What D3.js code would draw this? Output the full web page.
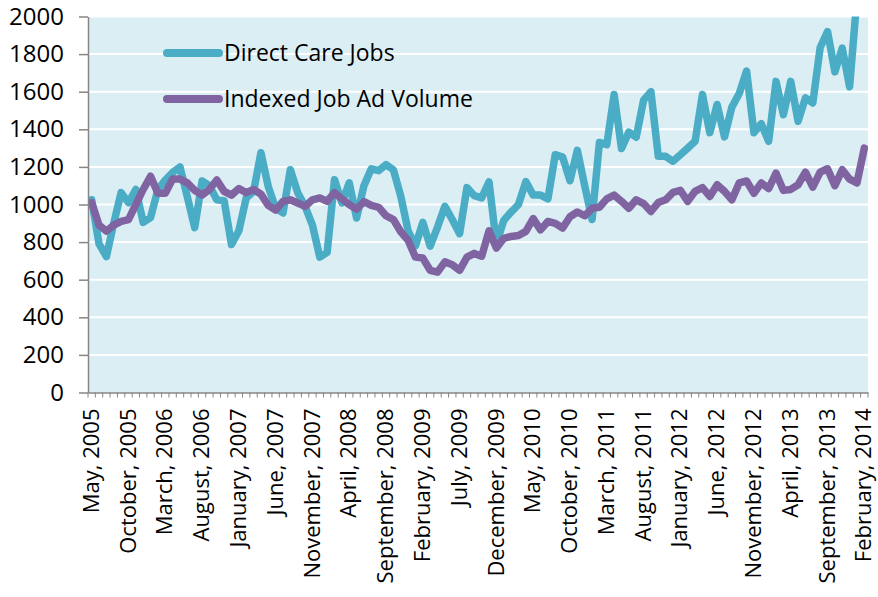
<!DOCTYPE html>
<html><head><meta charset="utf-8">
<script src="https://cdn.jsdelivr.net/npm/d3@7"></script>
<style>body{margin:0;background:#fff}svg{display:block}</style>
</head><body><svg id="c" width="878" height="597"></svg>
<script>
const monthNames = ["January","February","March","April","May","June","July","August","September","October","November","December"];
// categories: monthly, May 2005 .. February 2014
const categories = [];
for (let k = 0; k < 106; k++) {
  const m = (4 + k) % 12, yr = 2005 + Math.floor((4 + k) / 12);
  categories.push(monthNames[m] + ", " + yr);
}
const tickLabels = ["May, 2005","October, 2005","March, 2006","August, 2006","January, 2007","June, 2007","November, 2007","April, 2008","September, 2008","February, 2009","July, 2009","December, 2009","May, 2010","October, 2010","March, 2011","August, 2011","January, 2012","June, 2012","November, 2012","April, 2013","September, 2013","February, 2014"];
const yTicks = [0,200,400,600,800,1000,1200,1400,1600,1800,2000];
const seriesNames = ["Direct Care Jobs","Indexed Job Ad Volume"];
const directCareJobs = [
 1025,790,723,900,1063,1010,1080,905,930,1080,
 1130,1170,1200,1040,877,1125,1100,1025,1020,787,
 860,1035,1070,1275,1095,980,955,1185,1063,990,
 890,720,745,1132,1008,1115,928,1100,1190,1180,
 1212,1185,1045,860,780,905,778,880,990,920,
 845,1090,1047,1035,1120,790,915,960,1000,1122,
 1050,1050,1030,1265,1252,1127,1288,1100,920,1330,
 1318,1585,1298,1385,1358,1555,1600,1256,1256,1230,
 1265,1300,1336,1585,1382,1532,1360,1518,1590,1710,
 1382,1430,1336,1655,1478,1655,1443,1567,1540,1835,
 1920,1706,1832,1626,2100,2250];
const indexedJobAdVolume = [
 1010,890,858,890,910,920,1000,1080,1150,1060,
 1060,1135,1135,1115,1075,1050,1080,1130,1070,1050,
 1085,1063,1080,1055,995,970,1017,1025,1008,990,
 1025,1035,1017,1063,1030,1000,975,1015,995,985,
 940,920,855,810,720,715,650,640,695,680,
 650,720,740,725,860,768,820,830,835,857,
 925,865,910,900,875,935,960,940,980,985,
 1030,1050,1017,980,1025,1005,963,1010,1025,1065,
 1075,1017,1070,1090,1043,1105,1070,1025,1115,1125,
 1060,1115,1085,1167,1075,1080,1105,1172,1092,1172,
 1190,1100,1185,1135,1115,1300];
const colors = ["#4BACC6","#8064A2"];

const svg = d3.select("#c");
const L = 88, R = 868, T = 16.5, B = 392.5;
const x = d3.scalePoint().domain(categories).range([L, R]).padding(0.5);
const y = d3.scaleLinear().domain([0, 2000]).range([B, T]);
const step = x.step();
const font = "'Open Sans', sans-serif";

svg.append("rect").attr("x", L).attr("y", T).attr("width", R - L).attr("height", B - T).attr("fill", "#DAEEF3");
svg.append("g").selectAll("line").data(yTicks.filter(v => v > 0)).join("line")
  .attr("x1", L).attr("x2", R).attr("y1", d => y(d)).attr("y2", d => y(d))
  .attr("stroke", "#fff").attr("stroke-width", 2);

svg.append("defs").append("clipPath").attr("id", "clip")
  .append("rect").attr("x", L).attr("y", T).attr("width", R - L).attr("height", B - T);

const line = d3.line().x((d, i) => x(categories[i])).y(d => y(d));
[directCareJobs, indexedJobAdVolume].forEach((s, k) => {
  svg.append("path").datum(s).attr("d", line).attr("clip-path", "url(#clip)")
    .attr("fill", "none").attr("stroke", colors[k]).attr("stroke-width", 7.5)
    .attr("stroke-linejoin", "round").attr("stroke-linecap", "round");
});

// y axis
const yAxis = svg.append("g").attr("transform", `translate(${L},0)`)
  .call(d3.axisLeft(y).tickValues(yTicks).tickFormat(d3.format("d")).tickSize(9).tickPadding(15).tickSizeOuter(0));
yAxis.select(".domain").attr("stroke", "#868686").attr("stroke-width", 1.5);
yAxis.selectAll(".tick line").attr("stroke", "#868686").attr("stroke-width", 1.5);
yAxis.selectAll("text").attr("font-family", font).attr("font-size", 24).attr("fill", "#000");

// x axis
const xAxis = svg.append("g").attr("transform", `translate(0,${B})`)
  .call(d3.axisBottom(x).tickValues(tickLabels).tickSize(0).tickSizeOuter(0));
xAxis.select(".domain").attr("stroke", "#868686").attr("stroke-width", 1.5);
xAxis.selectAll("text").attr("font-family", font).attr("font-size", 22).attr("fill", "#000")
  .attr("transform", "rotate(-90)").attr("text-anchor", "end")
  .attr("x", -16).attr("y", 0).attr("dy", "0.3em");
xAxis.append("g").selectAll("line").data(categories.concat(["end"])).join("line")
  .attr("x1", (d, i) => i < categories.length ? x(d) - step / 2 : x(categories[i - 1]) + step / 2)
  .attr("x2", (d, i) => i < categories.length ? x(d) - step / 2 : x(categories[i - 1]) + step / 2)
  .attr("y1", 0).attr("y2", 5).attr("stroke", "#868686").attr("stroke-width", 1);

// legend
const lg = svg.append("g");
seriesNames.forEach((n, k) => {
  const yy = 53 + k * 46;
  lg.append("line").attr("x1", 167).attr("x2", 219).attr("y1", yy).attr("y2", yy)
    .attr("stroke", colors[k]).attr("stroke-width", 8).attr("stroke-linecap", "round");
  lg.append("text").attr("x", 224).attr("y", yy).attr("dy", "0.36em")
    .attr("font-family", font).attr("font-size", 23).attr("fill", "#000").text(n);
});
</script></body></html>
